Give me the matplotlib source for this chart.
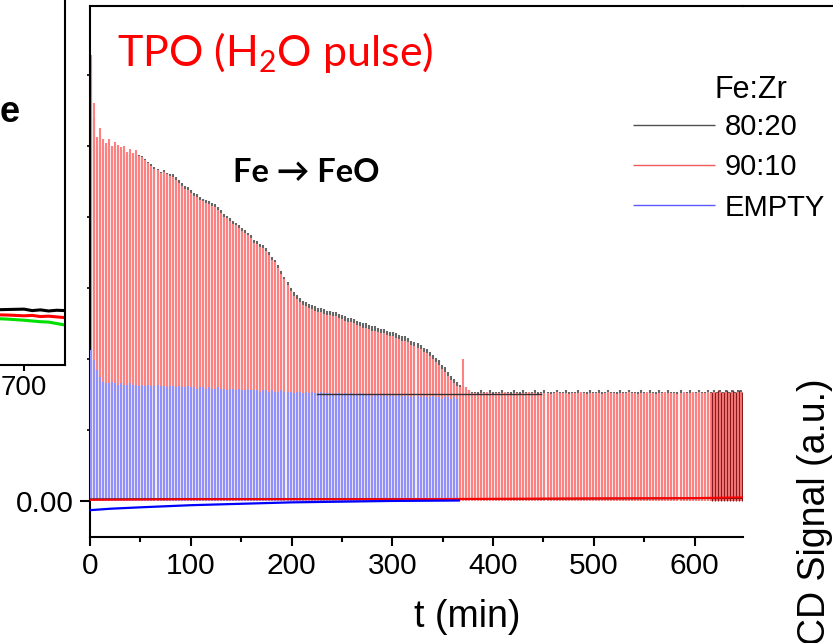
import matplotlib
matplotlib.use("Agg")
import matplotlib.pyplot as plt
from matplotlib.lines import Line2D
import numpy as np

plt.rcParams['font.family'] = ['Liberation Sans', 'DejaVu Sans']

# pulse timing (one H2O pulse every 3 min)
pulse_start = 1.0
pulse_step = 3.0

# 90:10 pulse heights (a.u.), one per pulse
red_h = [
    0.314, 0.280, 0.256, 0.263, 0.255, 0.252, 0.255, 0.250, 0.253, 0.251, 0.249, 0.250,
    0.246, 0.248, 0.245, 0.247, 0.243, 0.242, 0.240, 0.238, 0.236, 0.234, 0.233, 0.231,
    0.232, 0.230, 0.229, 0.228, 0.226, 0.224, 0.222, 0.220, 0.219, 0.217, 0.215, 0.214,
    0.212, 0.211, 0.210, 0.209, 0.208, 0.207, 0.205, 0.203, 0.200, 0.199, 0.197, 0.195,
    0.194, 0.192, 0.190, 0.189, 0.187, 0.185, 0.182, 0.181, 0.179, 0.178, 0.176, 0.173,
    0.170, 0.168, 0.164, 0.160, 0.156, 0.152, 0.148, 0.144, 0.142, 0.140, 0.138, 0.137,
    0.136, 0.135, 0.134, 0.133, 0.133, 0.132, 0.131, 0.131, 0.130, 0.130, 0.129, 0.128,
    0.127, 0.126, 0.126, 0.125, 0.124, 0.123, 0.122, 0.122, 0.121, 0.120, 0.120, 0.119,
    0.118, 0.118, 0.117, 0.116, 0.116, 0.115, 0.114, 0.113, 0.113, 0.112, 0.110, 0.109,
    0.108, 0.107, 0.105, 0.104, 0.102, 0.100, 0.098, 0.096, 0.093, 0.091, 0.088, 0.085,
    0.083, 0.081, 0.080, 0.100, 0.080, 0.078,
    0.076, 0.076, 0.075, 0.076, 0.076, 0.077, 0.076, 0.075, 0.076, 0.076, 0.076, 0.077, 0.076, 0.075, 0.076,
    0.076, 0.075, 0.076, 0.076, 0.077, 0.076, 0.076, 0.075, 0.076, 0.076, 0.076, 0.075, 0.076, 0.077, 0.076,
    0.076, 0.076, 0.075, 0.076, 0.076, 0.076, 0.077, 0.076, 0.075, 0.076, 0.076, 0.076, 0.076, 0.075, 0.076,
    0.077, 0.076, 0.076, 0.075, 0.076, 0.076, 0.076, 0.077, 0.076, 0.076, 0.075, 0.076, 0.076, 0.077, 0.076,
    0.076, 0.075, 0.076, 0.076, 0.077, 0.076, 0.076, 0.076, 0.075, 0.076, 0.077, 0.076, 0.076, 0.077, 0.076,
    0.077, 0.076, 0.076, 0.077, 0.076, 0.077, 0.076, 0.077, 0.076, 0.077, 0.076, 0.077, 0.076, 0.077, 0.077,
]

# 80:20 pulse heights (a.u.), same pulse clock
black_h = [
    0.313, 0.270, 0.250, 0.255, 0.250, 0.249, 0.250, 0.248, 0.250, 0.248, 0.247, 0.247,
    0.244, 0.246, 0.244, 0.246, 0.244, 0.243, 0.241, 0.239, 0.237, 0.235, 0.234, 0.232,
    0.233, 0.231, 0.230, 0.230, 0.228, 0.226, 0.224, 0.222, 0.221, 0.219, 0.217, 0.216,
    0.214, 0.213, 0.212, 0.211, 0.210, 0.209, 0.207, 0.205, 0.202, 0.201, 0.199, 0.197,
    0.196, 0.194, 0.192, 0.191, 0.189, 0.187, 0.184, 0.183, 0.181, 0.180, 0.178, 0.175,
    0.172, 0.170, 0.166, 0.162, 0.158, 0.154, 0.150, 0.147, 0.145, 0.143, 0.141, 0.140,
    0.139, 0.138, 0.137, 0.136, 0.136, 0.135, 0.134, 0.134, 0.133, 0.133, 0.132, 0.131,
    0.130, 0.129, 0.129, 0.128, 0.127, 0.126, 0.125, 0.125, 0.124, 0.123, 0.123, 0.122,
    0.121, 0.121, 0.120, 0.119, 0.119, 0.118, 0.117, 0.116, 0.116, 0.115, 0.113, 0.112,
    0.111, 0.110, 0.108, 0.107, 0.105, 0.103, 0.101, 0.099, 0.096, 0.094, 0.091, 0.088,
    0.086, 0.084, 0.082, 0.081, 0.079, 0.078,
    0.077, 0.077, 0.077, 0.078, 0.077, 0.077, 0.078, 0.077, 0.077, 0.077, 0.078, 0.077, 0.077, 0.077, 0.078,
    0.077, 0.077, 0.078, 0.077, 0.077, 0.077, 0.078, 0.077, 0.077, 0.078, 0.077, 0.077, 0.077, 0.078, 0.077,
    0.077, 0.078, 0.077, 0.077, 0.077, 0.078, 0.077, 0.077, 0.077, 0.078, 0.077, 0.077, 0.078, 0.077, 0.077,
    0.078, 0.077, 0.077, 0.077, 0.078, 0.077, 0.077, 0.078, 0.077, 0.077, 0.077, 0.078, 0.077, 0.077, 0.078,
    0.077, 0.077, 0.078, 0.077, 0.077, 0.078, 0.077, 0.077, 0.077, 0.078, 0.077, 0.077, 0.078, 0.077, 0.077,
    0.078, 0.077, 0.077, 0.078, 0.077, 0.078, 0.077, 0.078, 0.077, 0.078, 0.077, 0.078, 0.077, 0.078, 0.078,
]
# extra 80:20 pulses near the end of the run
black_late_t = [617.5, 620.5, 623.5, 626.5, 629.5, 632.5, 635.5, 638.5, 641.5, 644.5, 647.0]
black_late_h = [0.077, 0.077, 0.078, 0.077, 0.077, 0.078, 0.077, 0.078, 0.077, 0.078, 0.077]

# EMPTY reactor pulse heights
blue_h = [
    0.106, 0.099, 0.092, 0.087, 0.084, 0.083, 0.083, 0.084, 0.083, 0.082, 0.083, 0.082,
    0.082, 0.083, 0.082, 0.082, 0.081, 0.082, 0.081, 0.082, 0.081, 0.081, 0.082, 0.081,
    0.081, 0.080, 0.081, 0.081, 0.080, 0.081, 0.080, 0.080, 0.081, 0.080, 0.080, 0.079,
    0.080, 0.080, 0.079, 0.080, 0.079, 0.079, 0.080, 0.079, 0.079, 0.078, 0.079, 0.079,
    0.078, 0.079, 0.078, 0.078, 0.079, 0.078, 0.078, 0.078, 0.077, 0.078, 0.078, 0.077,
    0.078, 0.077, 0.077, 0.078, 0.077, 0.077, 0.077, 0.076, 0.077, 0.077, 0.076, 0.077,
    0.076, 0.077, 0.076, 0.076, 0.077, 0.076, 0.076, 0.076, 0.075, 0.076, 0.076, 0.075,
    0.076, 0.075, 0.076, 0.075, 0.075, 0.076, 0.075, 0.075, 0.075, 0.074, 0.075, 0.075,
    0.074, 0.075, 0.074, 0.075, 0.074, 0.074, 0.075, 0.074, 0.074, 0.074, 0.073, 0.074,
    0.074, 0.073, 0.074, 0.073, 0.073, 0.074, 0.073, 0.073, 0.072, 0.073, 0.073, 0.072,
    0.073, 0.072,
]

# baselines between pulses
red_base_t = [0, 50, 100, 200, 300, 400, 500, 600, 648]
red_base_v = [0.0008, 0.0010, 0.0012, 0.0012, 0.0012, 0.0015, 0.0018, 0.0020, 0.0025]
black_base_t = [0, 100, 200, 300, 400, 500, 600, 648]
black_base_v = [0.0012, 0.0014, 0.0013, 0.0013, 0.0014, 0.0016, 0.0018, 0.0020]
blue_base_t = [0, 20, 50, 100, 150, 200, 250, 300, 366]
blue_base_v = [-0.0065, -0.0055, -0.0045, -0.0030, -0.0020, -0.0010, -0.0005, 0.0000, 0.0003]
flat_t = [225, 448]
flat_v = [0.0755, 0.0755]

# left (TPR) panel, only its right end is in view
left_t = [640, 660, 680, 700, 710, 720, 730, 740, 750]
left_black = [0.151, 0.149, 0.150, 0.151, 0.147, 0.149, 0.146, 0.148, 0.147]
left_red = [0.138, 0.136, 0.135, 0.133, 0.134, 0.131, 0.132, 0.130, 0.128]
left_green = [0.128, 0.126, 0.124, 0.121, 0.119, 0.117, 0.116, 0.112, 0.108]

W, H = 833, 643
fig = plt.figure(figsize=(W / 100, H / 100), dpi=100)


def fx(x):
    return x / W


def fy(y):
    return 1 - y / H


# ---- left panel ----
axl = fig.add_axes([fx(-58), fy(365), 123 / W, 370 / H])
axl.plot(left_t, left_black, color='black', lw=2.2)
axl.plot(left_t, left_red, color='red', lw=2.2)
axl.plot(left_t, left_green, color='#00e000', lw=2.2)
axl.set_xlim(600, 750)
axl.set_ylim(0, 1)
axl.spines['top'].set_visible(False)
axl.spines['left'].set_visible(False)
for s in ['right', 'bottom']:
    axl.spines[s].set_linewidth(1.5)
axl.set_xticks([700])
axl.set_xticklabels(['700'])
axl.set_yticks([])
axl.tick_params(axis='x', direction='out', length=4, width=1.5, labelsize=20, pad=3)

# ---- main panel ----
ax = fig.add_axes([fx(90), fy(537), 653 / W, 531 / H])
t_pulse = pulse_start + pulse_step * np.arange(len(red_h))
t_blue = pulse_start + pulse_step * np.arange(len(blue_h))

black_p = ax.vlines(t_pulse, 0, black_h, colors='#666666', lw=1.5, zorder=1)
red_p = ax.vlines(t_pulse, 0, red_h, colors='#ff8080', lw=1.5, zorder=2)
ax.vlines(black_late_t, 0, black_late_h, colors='#8a1a1a', lw=0.9, zorder=2.5)
blue_p = ax.vlines(t_blue, 0, blue_h, colors='#9090ff', lw=1.5, zorder=3)
ax.plot(black_base_t, black_base_v, color='#202020', lw=1.2, zorder=4)
ax.plot(red_base_t, red_base_v, color='red', lw=1.5, zorder=4)
ax.plot(blue_base_t, blue_base_v, color='blue', lw=1.6, zorder=5)
ax.plot(flat_t, flat_v, color='#303030', lw=1.0, zorder=5)

ax.set_xlim(0, 648)
ax.set_ylim(-0.0254, 0.3486)
ax.spines['right'].set_visible(False)
for s in ['left', 'bottom', 'top']:
    ax.spines[s].set_linewidth(1.5)
ax.set_xticks(np.arange(0, 601, 100))
ax.set_xticks(np.arange(50, 600, 100), minor=True)
ax.set_yticks([0.0])
ax.set_yticklabels(['0.00'])
ax.set_yticks(np.arange(0.05, 0.31, 0.05), minor=True)
ax.tick_params(axis='x', which='major', direction='out', length=6.5, width=1.5,
               labelsize=21.5, pad=4)
ax.tick_params(axis='x', which='minor', direction='out', length=3.6, width=1.5)
ax.tick_params(axis='y', which='major', direction='out', length=7, width=1.5,
               labelsize=21.5, pad=5)
ax.tick_params(axis='y', which='minor', direction='out', length=2.2, width=1.2)
ax.set_xlabel('t (min)', fontsize=27)
ax.xaxis.set_label_coords((467 - 90) / 653, (537 - 599) / 531)

# top frame line runs on to the right edge
fig.add_artist(Line2D([fx(743), 1.0], [fy(6), fy(6)], color='black', lw=1.5,
                      transform=fig.transFigure))

leg = ax.legend([black_p, red_p, blue_p], ['80:20', '90:10', 'EMPTY'],
                loc='upper left', bbox_to_anchor=(fx(633), fy(113)),
                bbox_transform=fig.transFigure, frameon=False, fontsize=21,
                handlelength=2.8, handletextpad=0.33, labelspacing=0.42,
                borderpad=0, borderaxespad=0)
for line, c in zip(leg.get_lines(), ['#505050', '#f05a5a', '#5a5aff']):
    line.set_linewidth(1.0)
    line.set_color(c)
fig.text(fx(751), fy(98), 'Fe:Zr', ha='center', va='baseline', fontsize=22)

fig.text(fx(117), fy(66), 'TPO (H$_\\mathregular{2}$O pulse)', color='red',
         fontsize=31, family=['Lato', 'DejaVu Sans'], va='baseline')
fig.text(fx(233), fy(182), 'Fe \u2192 FeO', fontsize=23.5, fontweight='bold',
         family=['Lato', 'DejaVu Sans'], va='baseline')
fig.text(fx(0), fy(122), 'e', fontsize=26, fontweight='bold', ha='left', va='baseline')
fig.text(fx(815), fy(378), 'CD Signal (a.u.)', rotation=90, ha='center', va='top',
         fontsize=27)

fig.savefig('out.png', dpi=100)
